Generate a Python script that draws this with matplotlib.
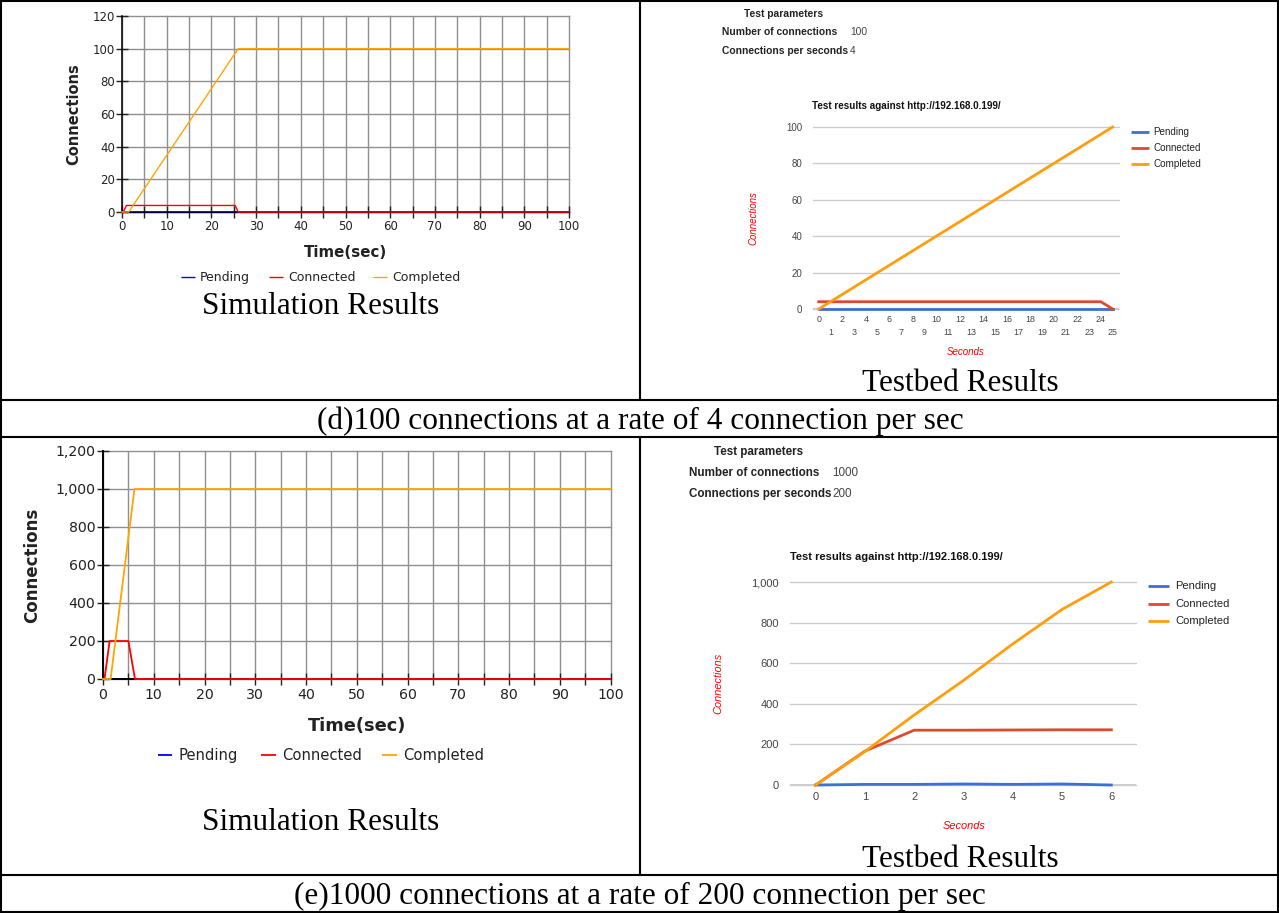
import matplotlib
matplotlib.use("Agg")
import matplotlib.pyplot as plt
from matplotlib.lines import Line2D
from matplotlib.ticker import MultipleLocator, FuncFormatter

W, H = 1279, 913

# ---------------- data ----------------
series_names = ["Pending", "Connected", "Completed"]

# (d) simulation: 100 connections at 4 connections per second
sim_d_pending_t = [0, 100]
sim_d_pending = [0, 0]
sim_d_connected_t = [0, 0.3, 1, 25.3, 26, 100]
sim_d_connected = [0, 0, 4, 4, 0, 0]
sim_d_completed_t = [0, 1.5, 26, 100]
sim_d_completed = [0, 0, 100, 100]

# (d) testbed
bed_d_seconds = [0, 1, 2, 3, 4, 5, 6, 7, 8, 9, 10, 11, 12, 13, 14, 15, 16,
                 17, 18, 19, 20, 21, 22, 23, 24, 25]
bed_d_pending = [0, 0, 0, 0, 0, 0, 0, 0, 0, 0, 0, 0, 0, 0, 0, 0, 0, 0, 0, 0,
                 0, 0, 0, 0, 0, 0]
bed_d_connected = [4, 4, 4, 4, 4, 4, 4, 4, 4, 4, 4, 4, 4, 4, 4, 4, 4, 4, 4, 4,
                   4, 4, 4, 4, 4, 0]
bed_d_completed = [0, 4, 8, 12, 16, 20, 24, 28, 32, 36, 40, 44, 48, 52, 56, 60,
                   64, 68, 72, 76, 80, 84, 88, 92, 96, 100]
bed_d_params = [("Number of connections", "100"), ("Connections per seconds", "4")]

# (e) simulation: 1000 connections at 200 connections per second
sim_e_pending_t = [0, 100]
sim_e_pending = [0, 0]
sim_e_connected_t = [0, 0.3, 1.3, 5.0, 6.3, 100]
sim_e_connected = [0, 0, 200, 200, 0, 0]
sim_e_completed_t = [0, 1.5, 6.2, 100]
sim_e_completed = [0, 0, 1000, 1000]

# (e) testbed
bed_e_seconds = [0, 1, 2, 3, 4, 5, 6]
bed_e_pending = [0, 3, 3, 5, 3, 5, 0]
bed_e_connected = [0, 167, 270, 270, 271, 272, 272]
bed_e_completed = [0, 165, 345, 515, 695, 865, 1000]
bed_e_params = [("Number of connections", "1000"), ("Connections per seconds", "200")]

captions = ["(d)100 connections at a rate of 4 connection per sec",
            "(e)1000 connections at a rate of 200 connection per sec"]

SIM_COLORS = ["#0000ff", "#ff0000", "#ffa500"]
BED_COLORS = ["#3d6fd6", "#de4a2e", "#ff9e0d"]

fig = plt.figure(figsize=(W / 100, H / 100), dpi=100)


def fig_box(left, top, right, bottom):
    return [left / W, 1 - bottom / H, (right - left) / W, (bottom - top) / H]


def fx(x):
    return x / W


def fy(y):
    return 1 - y / H


def hline(x0, x1, y, lw=1.5):
    fig.add_artist(Line2D([fx(x0), fx(x1)], [fy(y), fy(y)], color="black",
                          lw=lw, transform=fig.transFigure))


def vline(x, y0, y1, lw=1.5):
    fig.add_artist(Line2D([fx(x), fx(x)], [fy(y0), fy(y1)], color="black",
                          lw=lw, transform=fig.transFigure))


def legend_item(x0, x1, xt, y, color, label, size, lw, family):
    fig.add_artist(Line2D([fx(x0), fx(x1)], [fy(y), fy(y)], color=color, lw=lw,
                          transform=fig.transFigure, solid_capstyle="butt"))
    fig.text(fx(xt), fy(y), label, fontsize=size, va="center", ha="left",
             family=family, color="#222222")


# ---------------- simulation panels ----------------
def sim_panel(box, xs, ys, ymax, ystep, tick_fs, tick_len, lw):
    ax = fig.add_axes(fig_box(*box))
    # pending sits beneath the axis line; the other series are drawn above it
    for t, v, c, z in zip(xs, ys, SIM_COLORS, (2, 4, 4)):
        ax.plot(t, v, color=c, lw=lw, zorder=z, clip_on=False)
    ax.set_xlim(0, 100)
    ax.set_ylim(0, ymax)
    ax.xaxis.set_major_locator(MultipleLocator(10))
    ax.xaxis.set_minor_locator(MultipleLocator(5))
    ax.yaxis.set_major_locator(MultipleLocator(ystep))
    ax.yaxis.set_major_formatter(FuncFormatter(lambda v, p: f"{v:,.0f}"))
    ax.grid(which="both", color="#8f8f8f", lw=1.0)
    ax.set_axisbelow(True)
    for s in ("top", "right"):
        ax.spines[s].set_visible(False)
    for s in ("left", "bottom"):
        ax.spines[s].set_color("black")
        ax.spines[s].set_linewidth(lw + 0.1)
        ax.spines[s].set_zorder(3)
    ax.tick_params(axis="x", which="both", direction="inout", length=tick_len,
                   width=1, labelsize=tick_fs, pad=2, colors="#222222")
    ax.tick_params(axis="x", which="minor", labelbottom=False)
    ax.tick_params(axis="y", direction="inout", length=tick_len, width=1,
                   labelsize=tick_fs, pad=1, colors="#222222")
    for gl in ax.get_xgridlines() + ax.get_ygridlines():
        gl.set_clip_on(False)
    return ax


sim_panel((122, 16, 569, 212),
          [sim_d_pending_t, sim_d_connected_t, sim_d_completed_t],
          [sim_d_pending, sim_d_connected, sim_d_completed],
          120, 20, 8.5, 8, 1.0)
fig.text(fx(74), fy(114), "Connections", rotation=90, fontsize=10.5,
         fontweight="bold", ha="center", va="center", color="#222222")
fig.text(fx(346), fy(252), "Time(sec)", fontsize=10.8, fontweight="bold",
         ha="center", va="center", color="#222222")
for (x0, x1, xt), c, n in zip([(181, 195, 200), (269, 283, 288), (373, 387, 392)],
                              SIM_COLORS, series_names):
    legend_item(x0, x1, xt, 277, c, n, 9, 1.0, "DejaVu Sans")

sim_panel((103, 451, 610.5, 679),
          [sim_e_pending_t, sim_e_connected_t, sim_e_completed_t],
          [sim_e_pending, sim_e_connected, sim_e_completed],
          1200, 200, 10.2, 9, 1.3)
fig.text(fx(32), fy(565), "Connections", rotation=90, fontsize=12,
         fontweight="bold", ha="center", va="center", color="#222222")
fig.text(fx(357), fy(726), "Time(sec)", fontsize=12.8, fontweight="bold",
         ha="center", va="center", color="#222222")
for (x0, x1, xt), c, n in zip([(158, 172, 179), (261, 276, 282), (382, 397, 403)],
                              SIM_COLORS, series_names):
    legend_item(x0, x1, xt, 755, c, n, 10.6, 1.3, "DejaVu Sans")


# ---------------- testbed panels ----------------
ARIAL = "Liberation Sans"


def bed_panel(box, xlim, ymax, ystep, x, ys, tick_fs, ypad):
    ax = fig.add_axes(fig_box(*box))
    ax.set_xlim(*xlim)
    ax.set_ylim(0, ymax)
    ax.set_yticks(range(0, ymax + 1, ystep))
    ax.yaxis.set_major_formatter(FuncFormatter(lambda v, p: f"{v:,.0f}"))
    ax.grid(axis="y", color="#cccccc", lw=1.0)
    ax.set_axisbelow(True)
    for gl in ax.get_ygridlines():
        gl.set_clip_on(False)
    for s in ax.spines.values():
        s.set_visible(False)
    ax.axhline(0, color="#333333", lw=1.0, zorder=2)
    for v, c in zip(ys, BED_COLORS):
        ax.plot(x, v, color=c, lw=2.0, zorder=4, clip_on=False,
                solid_joinstyle="round")
    ax.tick_params(axis="both", which="both", length=0, labelsize=tick_fs,
                   labelcolor="#444444")
    ax.tick_params(axis="y", pad=ypad)
    for lab in ax.get_yticklabels():
        lab.set_family(ARIAL)
    return ax


# (d) testbed
ax = bed_panel((812.5, 127, 1119, 309), (-0.53, 25.54), 100, 20, bed_d_seconds,
               [bed_d_pending, bed_d_connected, bed_d_completed], 7, 7.5)
even = [s for s in bed_d_seconds if s % 2 == 0]
odd = [s for s in bed_d_seconds if s % 2 == 1]
ax.set_xticks(even, [str(s) for s in even])
ax.set_xticks(odd, [str(s) for s in odd], minor=True)
ax.tick_params(axis="x", which="major", pad=4.3, labelsize=6.4)
ax.tick_params(axis="x", which="minor", pad=13.6, labelsize=6.4)
for lab in ax.get_xticklabels(which="both"):
    lab.set_family(ARIAL)

fig.text(fx(744), fy(14), "Test parameters", fontsize=7.4, fontweight="bold",
         family=ARIAL, va="center", ha="left", color="#222222")
for (name, val), yy in zip(bed_d_params, (32, 51)):
    fig.text(fx(722), fy(yy), name, fontsize=7.4, fontweight="bold",
             family=ARIAL, va="center", ha="left", color="#222222")
    fig.text(fx(850), fy(yy), val, fontsize=7.4, family=ARIAL, va="center",
             ha="left", color="#444444")
fig.text(fx(812), fy(106), "Test results against http://192.168.0.199/",
         fontsize=7.1, fontweight="bold", family=ARIAL, va="center", ha="left",
         color="#111111")
fig.text(fx(753), fy(218), "Connections", rotation=90, fontsize=7,
         style="italic", family=ARIAL, color="#ff0000", ha="center", va="center")
fig.text(fx(966), fy(352), "Seconds", fontsize=7, style="italic",
         family=ARIAL, color="#ff0000", ha="center", va="center")
for yy, c, n in zip((132, 148, 164), BED_COLORS, series_names):
    legend_item(1130.5, 1149, 1153.5, yy, c, n, 7.1, 2.0, ARIAL)

# (e) testbed
ax = bed_panel((790, 582, 1136, 785), (-0.52, 6.5), 1000, 200, bed_e_seconds,
               [bed_e_pending, bed_e_connected, bed_e_completed], 8, 8)
ax.set_xticks(bed_e_seconds, [str(s) for s in bed_e_seconds])
ax.tick_params(axis="x", pad=5, labelsize=8)
for lab in ax.get_xticklabels():
    lab.set_family(ARIAL)

fig.text(fx(713.5), fy(452), "Test parameters", fontsize=8.4, fontweight="bold",
         family=ARIAL, va="center", ha="left", color="#222222")
for (name, val), yy in zip(bed_e_params, (473, 494)):
    fig.text(fx(689), fy(yy), name, fontsize=8.4, fontweight="bold",
             family=ARIAL, va="center", ha="left", color="#222222")
    fig.text(fx(832.5), fy(yy), val, fontsize=8.4, family=ARIAL, va="center",
             ha="left", color="#444444")
fig.text(fx(790), fy(557), "Test results against http://192.168.0.199/",
         fontsize=8, fontweight="bold", family=ARIAL, va="center", ha="left",
         color="#111111")
fig.text(fx(718), fy(683), "Connections", rotation=90, fontsize=7.9,
         style="italic", family=ARIAL, color="#ff0000", ha="center", va="center")
fig.text(fx(964), fy(826), "Seconds", fontsize=7.9, style="italic",
         family=ARIAL, color="#ff0000", ha="center", va="center")
for yy, c, n in zip((586, 604, 621), BED_COLORS, series_names):
    legend_item(1148, 1169, 1175, yy, c, n, 8, 2.0, ARIAL)

# ---------------- cell titles and captions ----------------
TIMES = "Liberation Serif"
fig.text(fx(321), fy(306), "Simulation Results", fontsize=22.5, family=TIMES,
         ha="center", va="center")
fig.text(fx(960), fy(383), "Testbed Results", fontsize=22.5, family=TIMES,
         ha="center", va="center")
fig.text(fx(321), fy(822), "Simulation Results", fontsize=22.5, family=TIMES,
         ha="center", va="center")
fig.text(fx(960), fy(859), "Testbed Results", fontsize=22.5, family=TIMES,
         ha="center", va="center")
fig.text(fx(640), fy(421), captions[0], fontsize=22.5, family=TIMES,
         ha="center", va="center")
fig.text(fx(640), fy(896), captions[1], fontsize=22.5, family=TIMES,
         ha="center", va="center")

# ---------------- table grid ----------------
hline(0, W, 1)
hline(0, W, 400)
hline(0, W, 437)
hline(0, W, 875)
hline(0, W, 912)
vline(1, 0, H)
vline(1278, 0, H)
vline(640, 1, 400)
vline(640, 437, 875)

fig.savefig("out.png", dpi=100)
